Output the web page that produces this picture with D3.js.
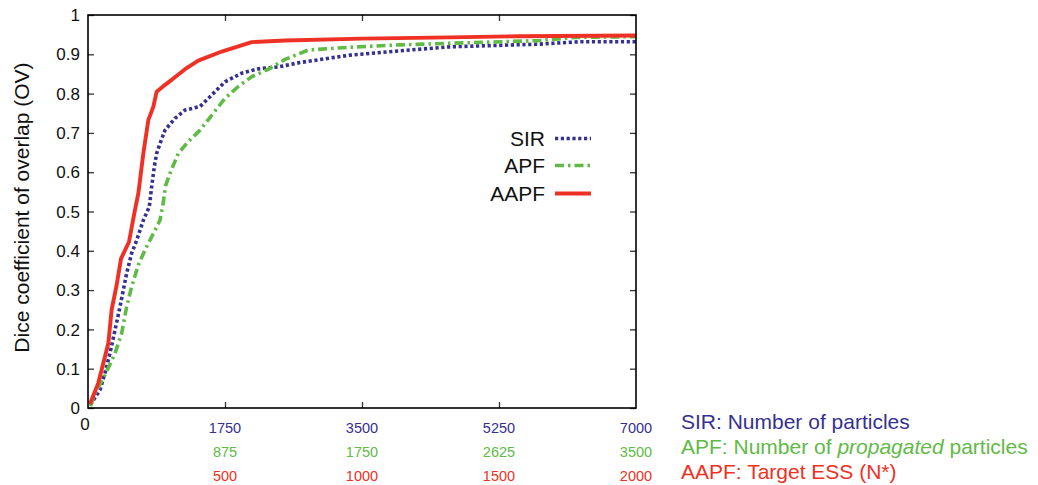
<!DOCTYPE html>
<html>
<head>
<meta charset="utf-8">
<script src="https://cdn.jsdelivr.net/npm/d3@7"></script>
<style>
  html, body { margin: 0; padding: 0; background: #fff; }
  svg { display: block; }
  text { font-family: "Liberation Sans", Arial, sans-serif; }
</style>
</head>
<body>
<svg id="chart" width="1038" height="485"></svg>
<script>
// x values are expressed in SIR particle counts (0..7000); the APF and AAPF
// rows below the axis are the equivalent settings for the other two filters.
const sirData = [
  [30, 0.008], [153, 0.046], [217, 0.089], [281, 0.14], [345, 0.198], [409, 0.258],
  [451, 0.30], [494, 0.343], [558, 0.394], [622, 0.427], [707, 0.478], [783, 0.512],
  [813, 0.563], [847, 0.614], [877, 0.648], [920, 0.673], [984, 0.707], [1111, 0.737],
  [1239, 0.758], [1431, 0.767], [1558, 0.792], [1750, 0.830], [1963, 0.852],
  [2176, 0.863], [2431, 0.868], [2708, 0.879], [3347, 0.898], [3986, 0.909],
  [4624, 0.919], [5774, 0.926], [6285, 0.932], [7000, 0.932]
];
const apfData = [
  [30, 0.005], [89, 0.037], [217, 0.084], [345, 0.139], [430, 0.19], [494, 0.258],
  [558, 0.309], [643, 0.364], [728, 0.402], [835, 0.444], [920, 0.478], [960, 0.52],
  [990, 0.565], [1047, 0.597], [1154, 0.648], [1281, 0.678], [1431, 0.707],
  [1601, 0.75], [1750, 0.788], [1920, 0.818], [2091, 0.843], [2304, 0.862],
  [2517, 0.887], [2814, 0.911], [3347, 0.918], [3986, 0.924], [4624, 0.928],
  [5774, 0.935], [6221, 0.943], [7000, 0.945]
];
const aapfData = [
  [25, 0.01], [132, 0.064], [260, 0.165], [302, 0.25], [366, 0.313], [422, 0.38],
  [524, 0.423], [592, 0.496], [643, 0.546], [707, 0.648], [771, 0.733], [835, 0.767],
  [877, 0.805], [962, 0.819], [1069, 0.835], [1175, 0.852], [1239, 0.862],
  [1409, 0.884], [1708, 0.907], [2091, 0.931], [2517, 0.935], [3500, 0.94],
  [4624, 0.943], [5500, 0.946], [7000, 0.948]
];

const xTicks = [1750, 3500, 5250, 7000];
const sirTickLabels = ["1750", "3500", "5250", "7000"];
const apfTickLabels = ["875", "1750", "2625", "3500"];
const aapfTickLabels = ["500", "1000", "1500", "2000"];
const yTicks = [0, 0.1, 0.2, 0.3, 0.4, 0.5, 0.6, 0.7, 0.8, 0.9, 1];

const seriesNames = ["SIR", "APF", "AAPF"];
const rowTitles = ["SIR: Number of particles", "APF: Number of ", "AAPF: Target ESS (N*)"];

const BLUE = "#35318f", GREEN = "#5fba46", RED = "#ee3124";

const plotLeft = 88, plotRight = 636, plotTop = 15, plotBottom = 408;
const x = d3.scaleLinear().domain([0, 7000]).range([plotLeft, plotRight]);
const y = d3.scaleLinear().domain([0, 1]).range([plotBottom, plotTop]);

const svg = d3.select("#chart");

// tick marks on all four sides, pointing inward
const tickLen = 6;
const g = svg.append("g");
g.append("g").attr("transform", `translate(${plotLeft},0)`)
  .call(d3.axisRight(y).tickValues(yTicks).tickSize(tickLen).tickFormat(""))
  .call(s => s.select(".domain").remove());
g.append("g").attr("transform", `translate(${plotRight},0)`)
  .call(d3.axisLeft(y).tickValues(yTicks).tickSize(tickLen).tickFormat(""))
  .call(s => s.select(".domain").remove());
g.append("g").attr("transform", `translate(0,${plotBottom})`)
  .call(d3.axisTop(x).tickValues(xTicks.slice(0, 3)).tickSize(tickLen).tickFormat(""))
  .call(s => s.select(".domain").remove());
g.append("g").attr("transform", `translate(0,${plotTop})`)
  .call(d3.axisBottom(x).tickValues(xTicks.slice(0, 3)).tickSize(tickLen).tickFormat(""))
  .call(s => s.select(".domain").remove());
g.selectAll(".tick line").attr("stroke", "#333").attr("stroke-width", 1.3);

// y tick labels
svg.append("g").selectAll("text").data(yTicks).join("text")
  .attr("x", plotLeft - 8).attr("y", d => y(d)).attr("dy", "0.36em")
  .attr("text-anchor", "end").attr("font-size", 17).attr("fill", "#111")
  .text(d => d === 0 ? "0" : d === 1 ? "1" : d3.format(".1f")(d));

// x origin label
svg.append("text").attr("x", x(0) - 3).attr("y", 430)
  .attr("text-anchor", "middle").attr("font-size", 17).attr("fill", "#111").text("0");

// three rows of x tick labels
const rows = [
  { labels: sirTickLabels, color: BLUE, y: 433 },
  { labels: apfTickLabels, color: GREEN, y: 457 },
  { labels: aapfTickLabels, color: RED, y: 480.5 }
];
rows.forEach(r => {
  svg.append("g").selectAll("text").data(xTicks).join("text")
    .attr("x", d => x(d)).attr("y", r.y)
    .attr("text-anchor", "middle")
    .attr("font-family", "'Open Sans', sans-serif")
    .attr("font-size", 14.5).attr("fill", r.color)
    .text((d, i) => r.labels[i]);
});

// row titles
const titleX = 681;
svg.append("text").attr("x", titleX).attr("y", 429).attr("font-size", 21).attr("fill", BLUE)
  .text(rowTitles[0]);
const apfTitle = svg.append("text").attr("x", titleX).attr("y", 454).attr("font-size", 21).attr("fill", GREEN);
apfTitle.append("tspan").text(rowTitles[1]);
apfTitle.append("tspan").attr("font-style", "italic").text("propagated");
apfTitle.append("tspan").text(" particles");
svg.append("text").attr("x", titleX).attr("y", 479).attr("font-size", 21).attr("fill", RED)
  .text(rowTitles[2]);

// y axis title
svg.append("text")
  .attr("transform", `translate(29,${(62 + 353) / 2}) rotate(-90)`)
  .attr("text-anchor", "middle").attr("font-size", 21).attr("fill", "#111")
  .text("Dice coefficient of overlap (OV)");

// curves
const line = d3.line().x(d => x(d[0])).y(d => y(d[1]));
const styles = [
  { data: sirData, color: BLUE, width: 3.6, dash: "3.2,2.6" },
  { data: apfData, color: GREEN, width: 3.6, dash: "9,4,2.5,4" },
  { data: aapfData, color: RED, width: 3.9, dash: null }
];
const plot = svg.append("g");
styles.forEach(s => {
  plot.append("path").datum(s.data)
    .attr("d", line)
    .attr("fill", "none")
    .attr("stroke", s.color)
    .attr("stroke-width", s.width)
    .attr("stroke-linejoin", "round")
    .attr("stroke-dasharray", s.dash);
});

// legend
const legY = [138.5, 165.5, 193.5];
const leg = svg.append("g");
seriesNames.forEach((name, i) => {
  leg.append("text").attr("x", 545).attr("y", legY[i]).attr("dy", "0.36em")
    .attr("text-anchor", "end").attr("font-size", 21).attr("fill", "#111").text(name);
  leg.append("line").attr("x1", 555).attr("x2", 591).attr("y1", legY[i]).attr("y2", legY[i])
    .attr("stroke", styles[i].color).attr("stroke-width", styles[i].width)
    .attr("stroke-dasharray", styles[i].dash);
});

// frame
svg.append("rect").attr("x", plotLeft).attr("y", plotTop)
  .attr("width", plotRight - plotLeft).attr("height", plotBottom - plotTop)
  .attr("fill", "none").attr("stroke", "#000").attr("stroke-width", 1.6);
</script>
</body>
</html>
